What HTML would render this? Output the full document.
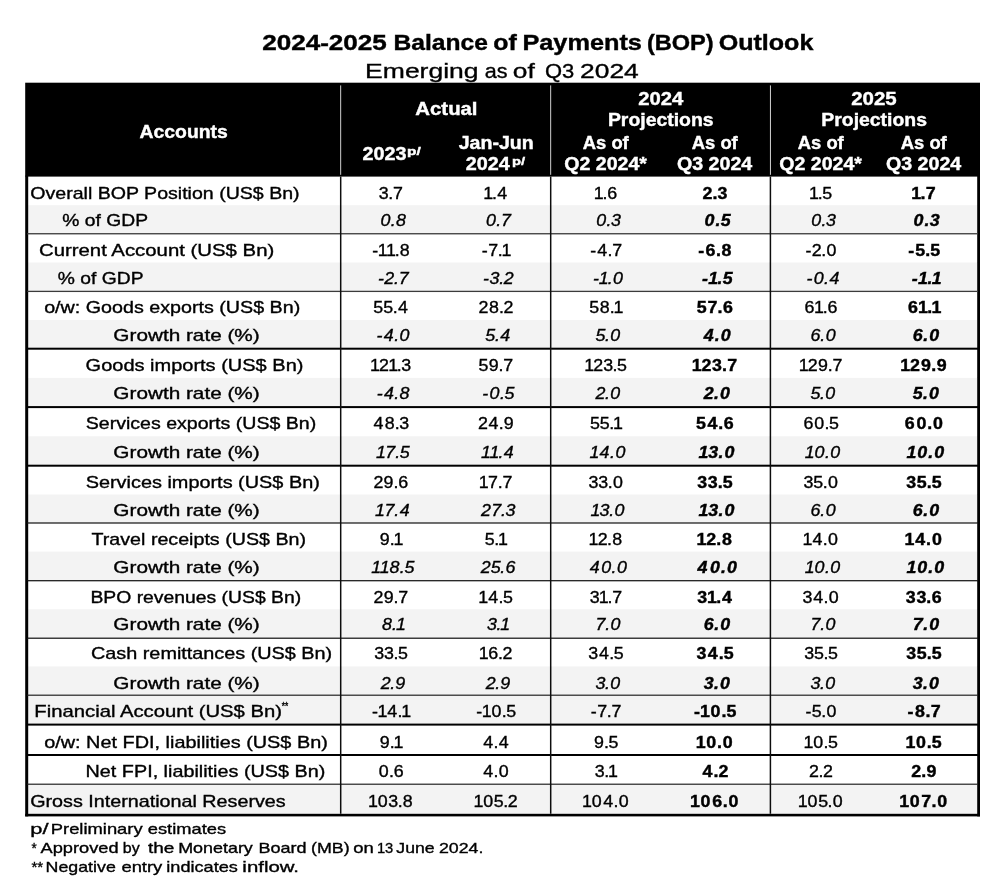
<!DOCTYPE html>
<html lang="en">
<head>
<meta charset="utf-8">
<title>2024-2025 Balance of Payments (BOP) Outlook</title>
<style>
html,body{margin:0;padding:0;background:#fff;}
body{width:1000px;height:896px;overflow:hidden;}
svg{display:block;font-family:"Liberation Sans", sans-serif;}
text{white-space:pre;}
</style>
</head>
<body>
<svg width="1000" height="896" viewBox="0 0 1000 896">
<defs><filter id="soft" x="0" y="0" width="100%" height="100%" filterUnits="userSpaceOnUse"><feGaussianBlur stdDeviation="0.35"/></filter></defs>
<rect width="1000" height="896" fill="#fff"/>
<g filter="url(#soft)">
<rect x="26.2" y="205.2" width="952.8" height="28.55" fill="#f3f3f3"/>
<rect x="26.2" y="262.5" width="952.8" height="28.9" fill="#f3f3f3"/>
<rect x="26.2" y="320.0" width="952.8" height="28.7" fill="#f3f3f3"/>
<rect x="26.2" y="377.9" width="952.8" height="29.2" fill="#f3f3f3"/>
<rect x="26.2" y="436.3" width="952.8" height="29.4" fill="#f3f3f3"/>
<rect x="26.2" y="494.5" width="952.8" height="28.5" fill="#f3f3f3"/>
<rect x="26.2" y="551.6" width="952.8" height="29.1" fill="#f3f3f3"/>
<rect x="26.2" y="609.3" width="952.8" height="28.9" fill="#f3f3f3"/>
<rect x="26.2" y="666.4" width="952.8" height="28.8" fill="#f3f3f3"/>
<rect x="26.2" y="695.2" width="952.8" height="29.4" fill="#f3f3f3"/>
<rect x="26.2" y="784.2" width="952.8" height="29.6" fill="#f3f3f3"/>
<rect x="25.2" y="82.7" width="954.8" height="93.9" fill="#000"/>
<rect x="340.25" y="85.4" width="0.9" height="89.4" fill="#e8e8e8"/>
<rect x="550.25" y="85.4" width="0.9" height="89.4" fill="#e8e8e8"/>
<rect x="769.95" y="85.4" width="0.9" height="89.4" fill="#e8e8e8"/>
<rect x="25.2" y="175.6" width="3" height="640.8" fill="#000"/>
<rect x="977.2" y="175.6" width="2.8" height="640.8" fill="#000"/>
<rect x="25.2" y="813.8" width="954.8" height="2.6" fill="#000"/>
<rect x="27.2" y="233.1" width="950.8" height="1.3" fill="#3a3a3a"/>
<rect x="27.2" y="290.75" width="950.8" height="1.3" fill="#3a3a3a"/>
<rect x="27.2" y="347.7" width="950.8" height="2" fill="#000"/>
<rect x="27.2" y="406.1" width="950.8" height="2" fill="#000"/>
<rect x="27.2" y="464.7" width="950.8" height="2" fill="#000"/>
<rect x="27.2" y="522.4" width="950.8" height="1.2" fill="#111"/>
<rect x="27.2" y="580.1" width="950.8" height="1.2" fill="#111"/>
<rect x="27.2" y="637.6" width="950.8" height="1.2" fill="#111"/>
<rect x="27.2" y="694.6" width="950.8" height="1.2" fill="#222"/>
<rect x="27.2" y="723.6" width="950.8" height="2" fill="#000"/>
<rect x="27.2" y="754.0" width="950.8" height="2" fill="#000"/>
<rect x="27.2" y="783.6" width="950.8" height="1.2" fill="#222"/>
<rect x="339.95" y="176.6" width="1.5" height="637.2" fill="#111"/>
<rect x="549.95" y="176.6" width="1.5" height="637.2" fill="#111"/>
<rect x="769.65" y="176.6" width="1.5" height="637.2" fill="#111"/>
<text y="50.4" font-size="22.2" font-weight="bold" stroke="#000" stroke-width="0.4"><tspan x="262.2" textLength="124.63" lengthAdjust="spacingAndGlyphs">2024-2025</tspan> <tspan x="393.45" textLength="94.39" lengthAdjust="spacingAndGlyphs">Balance</tspan> <tspan x="493.33" textLength="23.52" lengthAdjust="spacingAndGlyphs">of</tspan> <tspan x="522.41" textLength="119.53" lengthAdjust="spacingAndGlyphs">Payments</tspan> <tspan x="646.93" textLength="66.75" lengthAdjust="spacingAndGlyphs">(BOP)</tspan> <tspan x="718.67" textLength="94.7" lengthAdjust="spacingAndGlyphs">Outlook</tspan></text>
<text y="77.5" font-size="20.7" stroke="#000" stroke-width="0.35"><tspan x="365.12" textLength="113.48" lengthAdjust="spacingAndGlyphs">Emerging</tspan> <tspan x="484.68" textLength="22.8" lengthAdjust="spacingAndGlyphs">as</tspan> <tspan x="512.89" textLength="21.97" lengthAdjust="spacingAndGlyphs">of</tspan> <tspan x="544.96" textLength="29.31" lengthAdjust="spacingAndGlyphs">Q3</tspan> <tspan x="580.07" textLength="58.7" lengthAdjust="spacingAndGlyphs">2024</tspan></text>
<text x="139.52" y="137.5" font-size="18" font-weight="bold" fill="#fff" stroke="#fff" stroke-width="0.4" textLength="88.28" lengthAdjust="spacingAndGlyphs">Accounts</text>
<text x="415.39" y="115.2" font-size="18" font-weight="bold" fill="#fff" stroke="#fff" stroke-width="0.4" textLength="62.15" lengthAdjust="spacingAndGlyphs">Actual</text>
<text x="362.41" y="159.6" font-size="18" font-weight="bold" fill="#fff" stroke="#fff" stroke-width="0.4" textLength="44.0" lengthAdjust="spacingAndGlyphs">2023</text>
<text x="406.98" y="154.8" font-size="11.5" font-weight="bold" fill="#fff" stroke="#fff" stroke-width="0.4" textLength="13.77" lengthAdjust="spacingAndGlyphs">p/</text>
<text x="458.7" y="148.8" font-size="18" font-weight="bold" fill="#fff" stroke="#fff" stroke-width="0.4" textLength="75.11" lengthAdjust="spacingAndGlyphs">Jan-Jun</text>
<text x="465.71" y="169.6" font-size="18" font-weight="bold" fill="#fff" stroke="#fff" stroke-width="0.4" textLength="43.99" lengthAdjust="spacingAndGlyphs">2024</text>
<text x="512.03" y="164.8" font-size="11.5" font-weight="bold" fill="#fff" stroke="#fff" stroke-width="0.4" textLength="13.12" lengthAdjust="spacingAndGlyphs">p/</text>
<text x="638.2" y="105" font-size="18" font-weight="bold" fill="#fff" stroke="#fff" stroke-width="0.4" textLength="45.01" lengthAdjust="spacingAndGlyphs">2024</text>
<text x="607.9" y="125.8" font-size="18" font-weight="bold" fill="#fff" stroke="#fff" stroke-width="0.4" textLength="105.69" lengthAdjust="spacingAndGlyphs">Projections</text>
<text x="851.19" y="105" font-size="18" font-weight="bold" fill="#fff" stroke="#fff" stroke-width="0.4" textLength="45.48" lengthAdjust="spacingAndGlyphs">2025</text>
<text x="821.3" y="125.8" font-size="18" font-weight="bold" fill="#fff" stroke="#fff" stroke-width="0.4" textLength="105.69" lengthAdjust="spacingAndGlyphs">Projections</text>
<text x="582.74" y="148.8" font-size="18" font-weight="bold" fill="#fff" stroke="#fff" stroke-width="0.4" textLength="46.02" lengthAdjust="spacingAndGlyphs">As of</text>
<text x="564.3" y="169.6" font-size="18" font-weight="bold" fill="#fff" stroke="#fff" stroke-width="0.4" textLength="82.62" lengthAdjust="spacingAndGlyphs">Q2 2024*</text>
<text x="691.74" y="148.8" font-size="18" font-weight="bold" fill="#fff" stroke="#fff" stroke-width="0.4" textLength="46.02" lengthAdjust="spacingAndGlyphs">As of</text>
<text x="676.99" y="169.6" font-size="18" font-weight="bold" fill="#fff" stroke="#fff" stroke-width="0.4" textLength="75.31" lengthAdjust="spacingAndGlyphs">Q3 2024</text>
<text x="797.74" y="148.8" font-size="18" font-weight="bold" fill="#fff" stroke="#fff" stroke-width="0.4" textLength="46.02" lengthAdjust="spacingAndGlyphs">As of</text>
<text x="779.3" y="169.6" font-size="18" font-weight="bold" fill="#fff" stroke="#fff" stroke-width="0.4" textLength="82.62" lengthAdjust="spacingAndGlyphs">Q2 2024*</text>
<text x="900.74" y="148.8" font-size="18" font-weight="bold" fill="#fff" stroke="#fff" stroke-width="0.4" textLength="46.02" lengthAdjust="spacingAndGlyphs">As of</text>
<text x="885.99" y="169.6" font-size="18" font-weight="bold" fill="#fff" stroke="#fff" stroke-width="0.4" textLength="75.31" lengthAdjust="spacingAndGlyphs">Q3 2024</text>
<text x="30.27" y="198.6" font-size="16.2" stroke="#000" stroke-width="0.35" textLength="269.34" lengthAdjust="spacingAndGlyphs">Overall BOP Position (US$ Bn)</text>
<text transform="translate(391 198.6) scale(1.1 1)" x="-11.04 -2.44 1.85" y="0" font-size="16.2" stroke="#000" stroke-width="0.35">3.7</text>
<text transform="translate(496 198.6) scale(1.1 1)" x="-11.59 -3.66 1.17" y="0" font-size="16.2" stroke="#000" stroke-width="0.35">1.4</text>
<text transform="translate(606 198.6) scale(1.1 1)" x="-11.20 -3.28 1.17" y="0" font-size="16.2" stroke="#000" stroke-width="0.35">1.6</text>
<text transform="translate(715 198.6) scale(1.1 1)" x="-11.33 -2.23 2.34" y="0" font-size="16.2" font-weight="bold" stroke="#000" stroke-width="0.4">2.3</text>
<text transform="translate(821 198.6) scale(1.1 1)" x="-10.86 -2.94 1.17" y="0" font-size="16.2" stroke="#000" stroke-width="0.35">1.5</text>
<text transform="translate(924 198.6) scale(1.1 1)" x="-11.53 -3.18 1.59" y="0" font-size="16.2" font-weight="bold" stroke="#000" stroke-width="0.4">1.7</text>
<text x="62.31" y="226.3" font-size="16.2" stroke="#000" stroke-width="0.35" textLength="85.7" lengthAdjust="spacingAndGlyphs">% of GDP</text>
<text transform="translate(393.2 226.3) scale(1.1 1)" x="-11.54 -2.13 2.66" y="0" font-size="16.2" stroke="#000" stroke-width="0.35" font-style="italic">0.8</text>
<text transform="translate(498.2 226.3) scale(1.1 1)" x="-11.17 -1.76 2.66" y="0" font-size="16.2" stroke="#000" stroke-width="0.35" font-style="italic">0.7</text>
<text transform="translate(608.2 226.3) scale(1.1 1)" x="-10.98 -1.57 2.66" y="0" font-size="16.2" stroke="#000" stroke-width="0.35" font-style="italic">0.3</text>
<text transform="translate(717.2 226.3) scale(1.1 1)" x="-11.47 -1.53 3.19" y="0" font-size="16.2" font-weight="bold" stroke="#000" stroke-width="0.4" font-style="italic">0.5</text>
<text transform="translate(823.2 226.3) scale(1.1 1)" x="-10.98 -1.57 2.66" y="0" font-size="16.2" stroke="#000" stroke-width="0.35" font-style="italic">0.3</text>
<text transform="translate(926.2 226.3) scale(1.1 1)" x="-11.47 -1.52 3.19" y="0" font-size="16.2" font-weight="bold" stroke="#000" stroke-width="0.4" font-style="italic">0.3</text>
<text x="38.97" y="255.8" font-size="16.2" stroke="#000" stroke-width="0.35" textLength="235.28" lengthAdjust="spacingAndGlyphs">Current Account (US$ Bn)</text>
<text transform="translate(391 255.8) scale(1.1 1)" x="-17.16 -12.13 -4.57 3.36 8.01" y="0" font-size="16.2" stroke="#000" stroke-width="0.35">-11.8</text>
<text transform="translate(496 255.8) scale(1.1 1)" x="-13.02 -7.12 1.67 5.09" y="0" font-size="16.2" stroke="#000" stroke-width="0.35">-7.1</text>
<text transform="translate(606 255.8) scale(1.1 1)" x="-14.43 -7.99 1.35 5.63" y="0" font-size="16.2" stroke="#000" stroke-width="0.35">-4.7</text>
<text transform="translate(715 255.8) scale(1.1 1)" x="-15.28 -8.64 0.81 5.98" y="0" font-size="16.2" font-weight="bold" stroke="#000" stroke-width="0.4">-6.8</text>
<text transform="translate(821 255.8) scale(1.1 1)" x="-14.19 -8.47 0.15 4.92" y="0" font-size="16.2" stroke="#000" stroke-width="0.35">-2.0</text>
<text transform="translate(924 255.8) scale(1.1 1)" x="-14.33 -8.05 1.03 5.62" y="0" font-size="16.2" font-weight="bold" stroke="#000" stroke-width="0.4">-5.5</text>
<text x="57.81" y="284.3" font-size="16.2" stroke="#000" stroke-width="0.35" textLength="85.7" lengthAdjust="spacingAndGlyphs">% of GDP</text>
<text transform="translate(393.2 284.3) scale(1.1 1)" x="-13.93 -8.05 0.69 5.11" y="0" font-size="16.2" stroke="#000" stroke-width="0.35" font-style="italic">-2.7</text>
<text transform="translate(498.2 284.3) scale(1.1 1)" x="-13.74 -7.88 0.85 5.09" y="0" font-size="16.2" stroke="#000" stroke-width="0.35" font-style="italic">-3.2</text>
<text transform="translate(608.2 284.3) scale(1.1 1)" x="-13.71 -8.55 -0.51 4.40" y="0" font-size="16.2" stroke="#000" stroke-width="0.35" font-style="italic">-1.0</text>
<text transform="translate(717.2 284.3) scale(1.1 1)" x="-13.81 -8.12 0.35 5.07" y="0" font-size="16.2" font-weight="bold" stroke="#000" stroke-width="0.4" font-style="italic">-1.5</text>
<text transform="translate(823.2 284.3) scale(1.1 1)" x="-15.15 -8.61 0.80 5.77" y="0" font-size="16.2" stroke="#000" stroke-width="0.35" font-style="italic">-0.4</text>
<text transform="translate(926.2 284.3) scale(1.1 1)" x="-13.06 -7.37 1.10 5.07" y="0" font-size="16.2" font-weight="bold" stroke="#000" stroke-width="0.4" font-style="italic">-1.1</text>
<text x="44.17" y="312.9" font-size="16.2" stroke="#000" stroke-width="0.35" textLength="256.05" lengthAdjust="spacingAndGlyphs">o/w: Goods exports (US$ Bn)</text>
<text transform="translate(391 312.9) scale(1.1 1)" x="-16.05 -7.12 1.49 6.32" y="0" font-size="16.2" stroke="#000" stroke-width="0.35">55.4</text>
<text transform="translate(496 312.9) scale(1.1 1)" x="-15.88 -6.39 2.76 6.87" y="0" font-size="16.2" stroke="#000" stroke-width="0.35">28.2</text>
<text transform="translate(606 312.9) scale(1.1 1)" x="-15.19 -5.71 3.44 6.86" y="0" font-size="16.2" stroke="#000" stroke-width="0.35">58.1</text>
<text transform="translate(715 312.9) scale(1.1 1)" x="-16.70 -6.90 2.38 7.33" y="0" font-size="16.2" font-weight="bold" stroke="#000" stroke-width="0.4">57.6</text>
<text transform="translate(821 312.9) scale(1.1 1)" x="-14.98 -6.39 1.53 5.97" y="0" font-size="16.2" stroke="#000" stroke-width="0.35">61.6</text>
<text transform="translate(924 312.9) scale(1.1 1)" x="-14.67 -5.44 2.91 6.76" y="0" font-size="16.2" font-weight="bold" stroke="#000" stroke-width="0.4">61.1</text>
<text x="113.36" y="340.8" font-size="16.2" stroke="#000" stroke-width="0.35" textLength="146.33" lengthAdjust="spacingAndGlyphs">Growth rate (%)</text>
<text transform="translate(393.2 340.8) scale(1.1 1)" x="-15.15 -8.55 0.93 5.84" y="0" font-size="16.2" stroke="#000" stroke-width="0.35" font-style="italic">-4.0</text>
<text transform="translate(498.2 340.8) scale(1.1 1)" x="-11.73 -2.99 1.98" y="0" font-size="16.2" stroke="#000" stroke-width="0.35" font-style="italic">5.4</text>
<text transform="translate(608.2 340.8) scale(1.1 1)" x="-11.66 -2.93 1.98" y="0" font-size="16.2" stroke="#000" stroke-width="0.35" font-style="italic">5.0</text>
<text transform="translate(717.2 340.8) scale(1.1 1)" x="-12.20 -2.18 3.26" y="0" font-size="16.2" font-weight="bold" stroke="#000" stroke-width="0.4" font-style="italic">4.0</text>
<text transform="translate(823.2 340.8) scale(1.1 1)" x="-11.66 -2.58 2.33" y="0" font-size="16.2" stroke="#000" stroke-width="0.35" font-style="italic">6.0</text>
<text transform="translate(926.2 340.8) scale(1.1 1)" x="-12.20 -2.61 2.84" y="0" font-size="16.2" font-weight="bold" stroke="#000" stroke-width="0.4" font-style="italic">6.0</text>
<text x="85.59" y="371.2" font-size="16.2" stroke="#000" stroke-width="0.35" textLength="217.85" lengthAdjust="spacingAndGlyphs">Goods imports (US$ Bn)</text>
<text transform="translate(391 371.2) scale(1.1 1)" x="-19.11 -10.85 -2.60 5.33 9.42" y="0" font-size="16.2" stroke="#000" stroke-width="0.35">121.3</text>
<text transform="translate(496 371.2) scale(1.1 1)" x="-15.85 -6.58 2.37 6.66" y="0" font-size="16.2" stroke="#000" stroke-width="0.35">59.7</text>
<text transform="translate(606 371.2) scale(1.1 1)" x="-19.79 -11.54 -2.61 6.00 10.10" y="0" font-size="16.2" stroke="#000" stroke-width="0.35">123.5</text>
<text transform="translate(715 371.2) scale(1.1 1)" x="-21.13 -12.26 -2.66 6.42 11.20" y="0" font-size="16.2" font-weight="bold" stroke="#000" stroke-width="0.4">123.7</text>
<text transform="translate(821 371.2) scale(1.1 1)" x="-20.32 -12.07 -2.79 6.16 10.45" y="0" font-size="16.2" stroke="#000" stroke-width="0.35">129.7</text>
<text transform="translate(924 371.2) scale(1.1 1)" x="-21.68 -12.80 -2.83 6.62 11.57" y="0" font-size="16.2" font-weight="bold" stroke="#000" stroke-width="0.4">129.9</text>
<text x="113.36" y="399.2" font-size="16.2" stroke="#000" stroke-width="0.35" textLength="146.33" lengthAdjust="spacingAndGlyphs">Growth rate (%)</text>
<text transform="translate(393.2 399.2) scale(1.1 1)" x="-15.03 -8.42 1.05 5.84" y="0" font-size="16.2" stroke="#000" stroke-width="0.35" font-style="italic">-4.8</text>
<text transform="translate(498.2 399.2) scale(1.1 1)" x="-14.41 -7.87 1.54 5.77" y="0" font-size="16.2" stroke="#000" stroke-width="0.35" font-style="italic">-0.5</text>
<text transform="translate(608.2 399.2) scale(1.1 1)" x="-11.66 -2.92 1.99" y="0" font-size="16.2" stroke="#000" stroke-width="0.35" font-style="italic">2.0</text>
<text transform="translate(717.2 399.2) scale(1.1 1)" x="-12.20 -2.97 2.48" y="0" font-size="16.2" font-weight="bold" stroke="#000" stroke-width="0.4" font-style="italic">2.0</text>
<text transform="translate(823.2 399.2) scale(1.1 1)" x="-11.66 -2.93 1.98" y="0" font-size="16.2" stroke="#000" stroke-width="0.35" font-style="italic">5.0</text>
<text transform="translate(926.2 399.2) scale(1.1 1)" x="-12.20 -2.98 2.47" y="0" font-size="16.2" font-weight="bold" stroke="#000" stroke-width="0.4" font-style="italic">5.0</text>
<text x="85.71" y="429.2" font-size="16.2" stroke="#000" stroke-width="0.35" textLength="230.5" lengthAdjust="spacingAndGlyphs">Services exports (US$ Bn)</text>
<text transform="translate(391 429.2) scale(1.1 1)" x="-15.86 -5.66 3.49 7.59" y="0" font-size="16.2" stroke="#000" stroke-width="0.35">48.3</text>
<text transform="translate(496 429.2) scale(1.1 1)" x="-16.39 -6.72 2.61 7.05" y="0" font-size="16.2" stroke="#000" stroke-width="0.35">24.9</text>
<text transform="translate(606 429.2) scale(1.1 1)" x="-14.64 -5.71 2.90 6.32" y="0" font-size="16.2" stroke="#000" stroke-width="0.35">55.1</text>
<text transform="translate(715 429.2) scale(1.1 1)" x="-17.28 -6.90 2.96 7.91" y="0" font-size="16.2" font-weight="bold" stroke="#000" stroke-width="0.4">54.6</text>
<text transform="translate(821 429.2) scale(1.1 1)" x="-15.99 -6.06 3.22 7.32" y="0" font-size="16.2" stroke="#000" stroke-width="0.35">60.5</text>
<text transform="translate(924 429.2) scale(1.1 1)" x="-17.56 -6.88 2.91 8.21" y="0" font-size="16.2" font-weight="bold" stroke="#000" stroke-width="0.4">60.0</text>
<text x="113.36" y="457.8" font-size="16.2" stroke="#000" stroke-width="0.35" textLength="146.33" lengthAdjust="spacingAndGlyphs">Growth rate (%)</text>
<text transform="translate(393.2 457.8) scale(1.1 1)" x="-15.73 -7.13 1.79 6.02" y="0" font-size="16.2" stroke="#000" stroke-width="0.35" font-style="italic">17.5</text>
<text transform="translate(498.2 457.8) scale(1.1 1)" x="-15.58 -7.87 0.17 5.14" y="0" font-size="16.2" stroke="#000" stroke-width="0.35" font-style="italic">11.4</text>
<text transform="translate(608.2 457.8) scale(1.1 1)" x="-16.96 -7.81 1.67 6.58" y="0" font-size="16.2" stroke="#000" stroke-width="0.35" font-style="italic">14.0</text>
<text transform="translate(717.2 457.8) scale(1.1 1)" x="-17.09 -8.05 1.16 6.60" y="0" font-size="16.2" font-weight="bold" stroke="#000" stroke-width="0.4" font-style="italic">13.0</text>
<text transform="translate(823.2 457.8) scale(1.1 1)" x="-16.89 -7.81 1.60 6.51" y="0" font-size="16.2" stroke="#000" stroke-width="0.35" font-style="italic">10.0</text>
<text transform="translate(926.2 457.8) scale(1.1 1)" x="-17.82 -8.05 1.89 7.34" y="0" font-size="16.2" font-weight="bold" stroke="#000" stroke-width="0.4" font-style="italic">10.0</text>
<text x="85.7" y="488.2" font-size="16.2" stroke="#000" stroke-width="0.35" textLength="234.13" lengthAdjust="spacingAndGlyphs">Services imports (US$ Bn)</text>
<text transform="translate(391 488.2) scale(1.1 1)" x="-16.00 -6.72 2.22 6.67" y="0" font-size="16.2" stroke="#000" stroke-width="0.35">29.6</text>
<text transform="translate(496 488.2) scale(1.1 1)" x="-15.69 -7.26 1.53 5.82" y="0" font-size="16.2" stroke="#000" stroke-width="0.35">17.7</text>
<text transform="translate(606 488.2) scale(1.1 1)" x="-15.98 -7.06 1.54 6.30" y="0" font-size="16.2" stroke="#000" stroke-width="0.35">33.0</text>
<text transform="translate(715 488.2) scale(1.1 1)" x="-16.13 -6.54 2.53 7.11" y="0" font-size="16.2" font-weight="bold" stroke="#000" stroke-width="0.4">33.5</text>
<text transform="translate(821 488.2) scale(1.1 1)" x="-15.99 -7.06 1.55 6.31" y="0" font-size="16.2" stroke="#000" stroke-width="0.35">35.0</text>
<text transform="translate(924 488.2) scale(1.1 1)" x="-16.14 -6.54 2.54 7.12" y="0" font-size="16.2" font-weight="bold" stroke="#000" stroke-width="0.4">35.5</text>
<text x="113.36" y="516.2" font-size="16.2" stroke="#000" stroke-width="0.35" textLength="146.33" lengthAdjust="spacingAndGlyphs">Growth rate (%)</text>
<text transform="translate(393.2 516.2) scale(1.1 1)" x="-16.47 -7.87 1.05 6.02" y="0" font-size="16.2" stroke="#000" stroke-width="0.35" font-style="italic">17.4</text>
<text transform="translate(498.2 516.2) scale(1.1 1)" x="-15.72 -6.42 2.50 6.73" y="0" font-size="16.2" stroke="#000" stroke-width="0.35" font-style="italic">27.3</text>
<text transform="translate(608.2 516.2) scale(1.1 1)" x="-16.21 -7.81 0.92 5.83" y="0" font-size="16.2" stroke="#000" stroke-width="0.35" font-style="italic">13.0</text>
<text transform="translate(717.2 516.2) scale(1.1 1)" x="-17.09 -8.05 1.16 6.60" y="0" font-size="16.2" font-weight="bold" stroke="#000" stroke-width="0.4" font-style="italic">13.0</text>
<text transform="translate(823.2 516.2) scale(1.1 1)" x="-11.66 -2.58 2.33" y="0" font-size="16.2" stroke="#000" stroke-width="0.35" font-style="italic">6.0</text>
<text transform="translate(926.2 516.2) scale(1.1 1)" x="-12.20 -2.61 2.84" y="0" font-size="16.2" font-weight="bold" stroke="#000" stroke-width="0.4" font-style="italic">6.0</text>
<text x="91.56" y="544.8" font-size="16.2" stroke="#000" stroke-width="0.35" textLength="214.45" lengthAdjust="spacingAndGlyphs">Travel receipts (US$ Bn)</text>
<text transform="translate(391 544.8) scale(1.1 1)" x="-10.18 -1.23 2.19" y="0" font-size="16.2" stroke="#000" stroke-width="0.35">9.1</text>
<text transform="translate(496 544.8) scale(1.1 1)" x="-10.18 -1.57 1.85" y="0" font-size="16.2" stroke="#000" stroke-width="0.35">5.1</text>
<text transform="translate(606 544.8) scale(1.1 1)" x="-15.88 -7.62 0.99 5.64" y="0" font-size="16.2" stroke="#000" stroke-width="0.35">12.8</text>
<text transform="translate(715 544.8) scale(1.1 1)" x="-16.73 -7.86 1.24 6.40" y="0" font-size="16.2" font-weight="bold" stroke="#000" stroke-width="0.4">12.8</text>
<text transform="translate(821 544.8) scale(1.1 1)" x="-16.71 -7.74 1.59 6.36" y="0" font-size="16.2" stroke="#000" stroke-width="0.35">14.0</text>
<text transform="translate(924 544.8) scale(1.1 1)" x="-17.63 -7.98 1.88 7.17" y="0" font-size="16.2" font-weight="bold" stroke="#000" stroke-width="0.4">14.0</text>
<text x="113.36" y="573.3" font-size="16.2" stroke="#000" stroke-width="0.35" textLength="146.33" lengthAdjust="spacingAndGlyphs">Growth rate (%)</text>
<text transform="translate(393.2 573.3) scale(1.1 1)" x="-19.95 -12.24 -3.27 6.02 10.25" y="0" font-size="16.2" stroke="#000" stroke-width="0.35" font-style="italic">118.5</text>
<text transform="translate(498.2 573.3) scale(1.1 1)" x="-15.89 -6.77 1.97 6.54" y="0" font-size="16.2" stroke="#000" stroke-width="0.35" font-style="italic">25.6</text>
<text transform="translate(608.2 573.3) scale(1.1 1)" x="-16.89 -6.37 3.04 7.95" y="0" font-size="16.2" stroke="#000" stroke-width="0.35" font-style="italic">40.0</text>
<text transform="translate(717.2 573.3) scale(1.1 1)" x="-17.82 -6.51 3.44 8.88" y="0" font-size="16.2" font-weight="bold" stroke="#000" stroke-width="0.4" font-style="italic">40.0</text>
<text transform="translate(823.2 573.3) scale(1.1 1)" x="-16.89 -7.81 1.60 6.51" y="0" font-size="16.2" stroke="#000" stroke-width="0.35" font-style="italic">10.0</text>
<text transform="translate(926.2 573.3) scale(1.1 1)" x="-17.82 -8.05 1.89 7.34" y="0" font-size="16.2" font-weight="bold" stroke="#000" stroke-width="0.4" font-style="italic">10.0</text>
<text x="90.41" y="602.8" font-size="16.2" stroke="#000" stroke-width="0.35" textLength="210.79" lengthAdjust="spacingAndGlyphs">BPO revenues (US$ Bn)</text>
<text transform="translate(391 602.8) scale(1.1 1)" x="-15.85 -6.57 2.38 6.67" y="0" font-size="16.2" stroke="#000" stroke-width="0.35">29.7</text>
<text transform="translate(496 602.8) scale(1.1 1)" x="-16.05 -7.08 2.25 6.36" y="0" font-size="16.2" stroke="#000" stroke-width="0.35">14.5</text>
<text transform="translate(606 602.8) scale(1.1 1)" x="-14.82 -6.58 1.34 5.63" y="0" font-size="16.2" stroke="#000" stroke-width="0.35">31.7</text>
<text transform="translate(715 602.8) scale(1.1 1)" x="-16.18 -7.32 1.03 6.39" y="0" font-size="16.2" font-weight="bold" stroke="#000" stroke-width="0.4">31.4</text>
<text transform="translate(821 602.8) scale(1.1 1)" x="-16.71 -7.06 2.27 7.04" y="0" font-size="16.2" stroke="#000" stroke-width="0.35">34.0</text>
<text transform="translate(924 602.8) scale(1.1 1)" x="-16.49 -6.91 2.17 7.11" y="0" font-size="16.2" font-weight="bold" stroke="#000" stroke-width="0.4">33.6</text>
<text x="113.36" y="629.9" font-size="16.2" stroke="#000" stroke-width="0.35" textLength="146.33" lengthAdjust="spacingAndGlyphs">Growth rate (%)</text>
<text transform="translate(393.2 629.9) scale(1.1 1)" x="-10.29 -1.00 2.53" y="0" font-size="16.2" stroke="#000" stroke-width="0.35" font-style="italic">8.1</text>
<text transform="translate(498.2 629.9) scale(1.1 1)" x="-10.29 -1.56 1.97" y="0" font-size="16.2" stroke="#000" stroke-width="0.35" font-style="italic">3.1</text>
<text transform="translate(608.2 629.9) scale(1.1 1)" x="-11.66 -2.74 2.17" y="0" font-size="16.2" stroke="#000" stroke-width="0.35" font-style="italic">7.0</text>
<text transform="translate(717.2 629.9) scale(1.1 1)" x="-12.20 -2.61 2.84" y="0" font-size="16.2" font-weight="bold" stroke="#000" stroke-width="0.4" font-style="italic">6.0</text>
<text transform="translate(823.2 629.9) scale(1.1 1)" x="-11.66 -2.74 2.17" y="0" font-size="16.2" stroke="#000" stroke-width="0.35" font-style="italic">7.0</text>
<text transform="translate(926.2 629.9) scale(1.1 1)" x="-12.20 -2.78 2.67" y="0" font-size="16.2" font-weight="bold" stroke="#000" stroke-width="0.4" font-style="italic">7.0</text>
<text x="90.99" y="659.4" font-size="16.2" stroke="#000" stroke-width="0.35" textLength="241.24" lengthAdjust="spacingAndGlyphs">Cash remittances (US$ Bn)</text>
<text transform="translate(391 659.4) scale(1.1 1)" x="-15.32 -6.40 2.20 6.30" y="0" font-size="16.2" stroke="#000" stroke-width="0.35">33.5</text>
<text transform="translate(496 659.4) scale(1.1 1)" x="-15.67 -7.09 1.86 5.97" y="0" font-size="16.2" stroke="#000" stroke-width="0.35">16.2</text>
<text transform="translate(606 659.4) scale(1.1 1)" x="-16.05 -6.40 2.93 7.04" y="0" font-size="16.2" stroke="#000" stroke-width="0.35">34.5</text>
<text transform="translate(715 659.4) scale(1.1 1)" x="-16.92 -6.54 3.32 7.90" y="0" font-size="16.2" font-weight="bold" stroke="#000" stroke-width="0.4">34.5</text>
<text transform="translate(821 659.4) scale(1.1 1)" x="-15.33 -6.40 2.21 6.31" y="0" font-size="16.2" stroke="#000" stroke-width="0.35">35.5</text>
<text transform="translate(924 659.4) scale(1.1 1)" x="-16.14 -6.54 2.54 7.12" y="0" font-size="16.2" font-weight="bold" stroke="#000" stroke-width="0.4">35.5</text>
<text x="113.36" y="688.5" font-size="16.2" stroke="#000" stroke-width="0.35" textLength="146.33" lengthAdjust="spacingAndGlyphs">Growth rate (%)</text>
<text transform="translate(393.2 688.5) scale(1.1 1)" x="-11.33 -2.59 1.99" y="0" font-size="16.2" stroke="#000" stroke-width="0.35" font-style="italic">2.9</text>
<text transform="translate(498.2 688.5) scale(1.1 1)" x="-11.33 -2.59 1.99" y="0" font-size="16.2" stroke="#000" stroke-width="0.35" font-style="italic">2.9</text>
<text transform="translate(608.2 688.5) scale(1.1 1)" x="-11.66 -2.93 1.97" y="0" font-size="16.2" stroke="#000" stroke-width="0.35" font-style="italic">3.0</text>
<text transform="translate(717.2 688.5) scale(1.1 1)" x="-12.20 -2.99 2.46" y="0" font-size="16.2" font-weight="bold" stroke="#000" stroke-width="0.4" font-style="italic">3.0</text>
<text transform="translate(823.2 688.5) scale(1.1 1)" x="-11.66 -2.93 1.97" y="0" font-size="16.2" stroke="#000" stroke-width="0.35" font-style="italic">3.0</text>
<text transform="translate(926.2 688.5) scale(1.1 1)" x="-12.20 -2.99 2.46" y="0" font-size="16.2" font-weight="bold" stroke="#000" stroke-width="0.4" font-style="italic">3.0</text>
<text x="34.35" y="717.4" font-size="16.2" stroke="#000" stroke-width="0.35" textLength="247.7" lengthAdjust="spacingAndGlyphs">Financial Account (US$ Bn)</text>
<text transform="translate(391 717.4) scale(1.1 1)" x="-17.34 -12.31 -3.34 6.00 9.42" y="0" font-size="16.2" stroke="#000" stroke-width="0.35">-14.1</text>
<text transform="translate(496 717.4) scale(1.1 1)" x="-17.96 -12.93 -4.02 5.25 9.35" y="0" font-size="16.2" stroke="#000" stroke-width="0.35">-10.5</text>
<text transform="translate(606 717.4) scale(1.1 1)" x="-13.88 -7.99 0.80 5.09" y="0" font-size="16.2" stroke="#000" stroke-width="0.35">-7.7</text>
<text transform="translate(715 717.4) scale(1.1 1)" x="-19.11 -13.56 -3.99 5.81 10.39" y="0" font-size="16.2" font-weight="bold" stroke="#000" stroke-width="0.4">-10.5</text>
<text transform="translate(821 717.4) scale(1.1 1)" x="-14.18 -8.47 0.14 4.91" y="0" font-size="16.2" stroke="#000" stroke-width="0.35">-5.0</text>
<text transform="translate(924 717.4) scale(1.1 1)" x="-15.11 -8.25 1.42 6.20" y="0" font-size="16.2" font-weight="bold" stroke="#000" stroke-width="0.4">-8.7</text>
<text x="44.17" y="747.5" font-size="16.2" stroke="#000" stroke-width="0.35" textLength="283.67" lengthAdjust="spacingAndGlyphs">o/w: Net FDI, liabilities (US$ Bn)</text>
<text transform="translate(391 747.5) scale(1.1 1)" x="-10.18 -1.23 2.19" y="0" font-size="16.2" stroke="#000" stroke-width="0.35">9.1</text>
<text transform="translate(496 747.5) scale(1.1 1)" x="-11.59 -2.25 2.58" y="0" font-size="16.2" stroke="#000" stroke-width="0.35">4.4</text>
<text transform="translate(606 747.5) scale(1.1 1)" x="-10.86 -1.91 2.19" y="0" font-size="16.2" stroke="#000" stroke-width="0.35">9.5</text>
<text transform="translate(715 747.5) scale(1.1 1)" x="-17.56 -7.98 1.81 7.11" y="0" font-size="16.2" font-weight="bold" stroke="#000" stroke-width="0.4">10.0</text>
<text transform="translate(821 747.5) scale(1.1 1)" x="-15.99 -7.08 2.19 6.30" y="0" font-size="16.2" stroke="#000" stroke-width="0.35">10.5</text>
<text transform="translate(924 747.5) scale(1.1 1)" x="-16.85 -7.27 2.52 7.11" y="0" font-size="16.2" font-weight="bold" stroke="#000" stroke-width="0.4">10.5</text>
<text x="85.58" y="777.3" font-size="16.2" stroke="#000" stroke-width="0.35" textLength="239.65" lengthAdjust="spacingAndGlyphs">Net FPI, liabilities (US$ Bn)</text>
<text transform="translate(391 777.3) scale(1.1 1)" x="-11.20 -1.93 2.52" y="0" font-size="16.2" stroke="#000" stroke-width="0.35">0.6</text>
<text transform="translate(496 777.3) scale(1.1 1)" x="-11.52 -2.19 2.58" y="0" font-size="16.2" stroke="#000" stroke-width="0.35">4.0</text>
<text transform="translate(606 777.3) scale(1.1 1)" x="-10.18 -1.57 1.85" y="0" font-size="16.2" stroke="#000" stroke-width="0.35">3.1</text>
<text transform="translate(715 777.3) scale(1.1 1)" x="-11.35 -1.48 3.11" y="0" font-size="16.2" font-weight="bold" stroke="#000" stroke-width="0.4">4.2</text>
<text transform="translate(821 777.3) scale(1.1 1)" x="-10.87 -2.25 1.86" y="0" font-size="16.2" stroke="#000" stroke-width="0.35">2.2</text>
<text transform="translate(924 777.3) scale(1.1 1)" x="-11.70 -2.61 2.34" y="0" font-size="16.2" font-weight="bold" stroke="#000" stroke-width="0.4">2.9</text>
<text x="30.21" y="806.8" font-size="16.2" stroke="#000" stroke-width="0.35" textLength="255.51" lengthAdjust="spacingAndGlyphs">Gross International Reserves</text>
<text transform="translate(391 806.8) scale(1.1 1)" x="-20.99 -12.08 -2.49 6.11 10.75" y="0" font-size="16.2" stroke="#000" stroke-width="0.35">103.8</text>
<text transform="translate(496 806.8) scale(1.1 1)" x="-20.46 -11.55 -1.96 6.65 10.76" y="0" font-size="16.2" stroke="#000" stroke-width="0.35">105.2</text>
<text transform="translate(606 806.8) scale(1.1 1)" x="-21.84 -12.93 -2.61 6.72 11.49" y="0" font-size="16.2" stroke="#000" stroke-width="0.35">104.0</text>
<text transform="translate(715 806.8) scale(1.1 1)" x="-22.73 -13.15 -2.47 6.98 12.27" y="0" font-size="16.2" font-weight="bold" stroke="#000" stroke-width="0.4">106.0</text>
<text transform="translate(821 806.8) scale(1.1 1)" x="-21.12 -12.21 -2.61 6.00 10.76" y="0" font-size="16.2" stroke="#000" stroke-width="0.35">105.0</text>
<text transform="translate(924 806.8) scale(1.1 1)" x="-22.56 -12.98 -2.47 6.81 12.10" y="0" font-size="16.2" font-weight="bold" stroke="#000" stroke-width="0.4">107.0</text>
<text x="281.67" y="709.5" font-size="10" stroke="#000" stroke-width="0.35" textLength="6.46" lengthAdjust="spacingAndGlyphs">**</text>
<text y="833.5" font-size="15" stroke="#000" stroke-width="0.35"><tspan x="30.29" textLength="18.21" lengthAdjust="spacingAndGlyphs">p/</tspan> <tspan x="50.79" textLength="91.84" lengthAdjust="spacingAndGlyphs">Preliminary</tspan> <tspan x="147.82" textLength="78.24" lengthAdjust="spacingAndGlyphs">estimates</tspan></text>
<text y="852.6" font-size="15" stroke="#000" stroke-width="0.35"><tspan x="31.48" textLength="5.23" lengthAdjust="spacingAndGlyphs">*</tspan> <tspan x="40.56" textLength="78.01" lengthAdjust="spacingAndGlyphs">Approved</tspan> <tspan x="122.87" textLength="16.86" lengthAdjust="spacingAndGlyphs">by</tspan> <tspan x="147.91" textLength="26.43" lengthAdjust="spacingAndGlyphs">the</tspan> <tspan x="178.23" textLength="74.6" lengthAdjust="spacingAndGlyphs">Monetary</tspan> <tspan x="258.52" textLength="48.14" lengthAdjust="spacingAndGlyphs">Board</tspan> <tspan x="310.99" textLength="38.61" lengthAdjust="spacingAndGlyphs">(MB)</tspan> <tspan x="353.32" textLength="20.58" lengthAdjust="spacingAndGlyphs">on</tspan> <tspan x="376.88" textLength="16.37" lengthAdjust="spacingAndGlyphs">13</tspan> <tspan x="396.32" textLength="38.26" lengthAdjust="spacingAndGlyphs">June</tspan> <tspan x="438.91" textLength="44.52" lengthAdjust="spacingAndGlyphs">2024.</tspan></text>
<text y="871.8" font-size="15" stroke="#000" stroke-width="0.35"><tspan x="31.46" textLength="11.78" lengthAdjust="spacingAndGlyphs">**</tspan> <tspan x="45.64" textLength="70.15" lengthAdjust="spacingAndGlyphs">Negative</tspan> <tspan x="121.42" textLength="40.92" lengthAdjust="spacingAndGlyphs">entry</tspan> <tspan x="166.29" textLength="71.57" lengthAdjust="spacingAndGlyphs">indicates</tspan> <tspan x="242.36" textLength="56.66" lengthAdjust="spacingAndGlyphs">inflow.</tspan></text>
</g>
</svg>
</body>
</html>
